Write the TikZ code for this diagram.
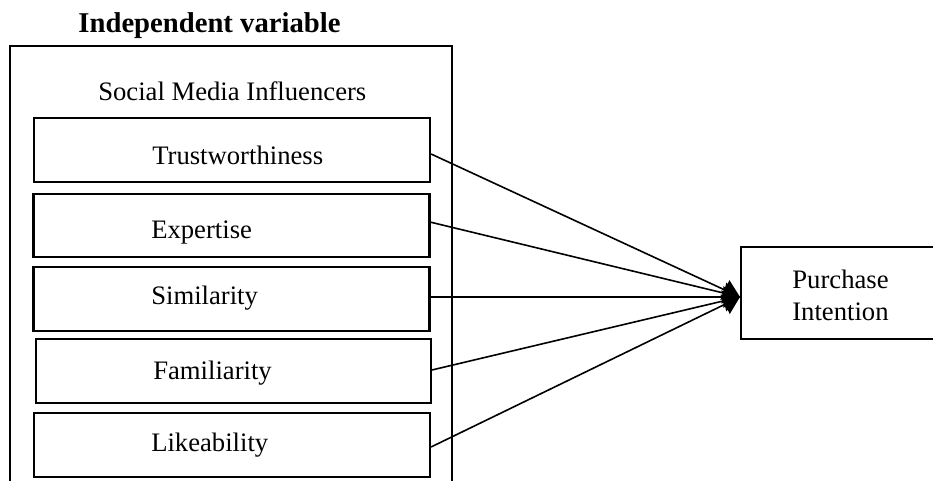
\documentclass[tikz,border=0pt]{standalone}
\usepackage{fontspec}
\setmainfont{Liberation Serif}
\usetikzlibrary{arrows.meta}
\begin{document}
\begin{tikzpicture}[x=0.75pt,y=-0.75pt,
  frame/.style={line width=1.6pt},
  varbox/.style={draw,line width=1.6pt,rectangle,minimum width=297pt,minimum height=47.5pt,inner sep=0pt},
  lbl/.style={anchor=base west,inner sep=0pt,font=\fontsize{20}{24}\selectfont},
  link/.style={line width=1.2pt,-{Triangle[length=12.5pt,width=16pt]}}]
\useasboundingbox (0,0) rectangle (933,481);
\clip (0,0) rectangle (933,481);
% outer frame (open at bottom)
\draw[frame] (10,495) -- (10,46) -- (452,46) -- (452,495);
\node[anchor=base,inner sep=0pt,font=\bfseries\fontsize{21.5}{25}\selectfont] (title) at (209.5,33) {Independent variable};
\node[lbl] (smi) at (98,101) {Social Media Influencers};
% variable boxes
\node[varbox] (trust) at (232,150) {};
\node[varbox] (exp) at (231.5,225.5) {};
\node[varbox] (sim) at (231.5,299) {};
\node[varbox,minimum width=296pt] (fam) at (233.5,371) {};
\node[varbox] (like) at (232,445) {};
\node[lbl] (trustl) at (152,165) {Trustworthiness};
\node[lbl] (expl) at (151,239) {Expertise};
\node[lbl] (siml) at (151,305) {Similarity};
\node[lbl] (faml) at (153,379) {Familiarity};
\node[lbl] (likel) at (151,451) {Likeability};
% dependent variable
\node[draw,line width=1.6pt,rectangle,minimum width=150pt,minimum height=69pt,inner sep=0pt] (pi) at (841,293) {};
\node[anchor=base,inner sep=0pt,font=\fontsize{20}{24}\selectfont] (pil1) at (840.5,288.5) {Purchase};
\node[anchor=base,inner sep=0pt,font=\fontsize{20}{24}\selectfont] (pil2) at (840.5,321) {Intention};
\coordinate (tip) at (740,297);
% connectors
\draw[link] ([yshift=-3pt]trust.east) -- (tip);
\draw[link] ([yshift=2.5pt]exp.east) -- (tip);
\draw[link] ([yshift=1.5pt]sim.east) -- (tip);
\draw[link] ([yshift=0.75pt]fam.east) -- (tip);
\draw[link] ([yshift=-1.5pt]like.east) -- (tip);
\end{tikzpicture}
\end{document}
